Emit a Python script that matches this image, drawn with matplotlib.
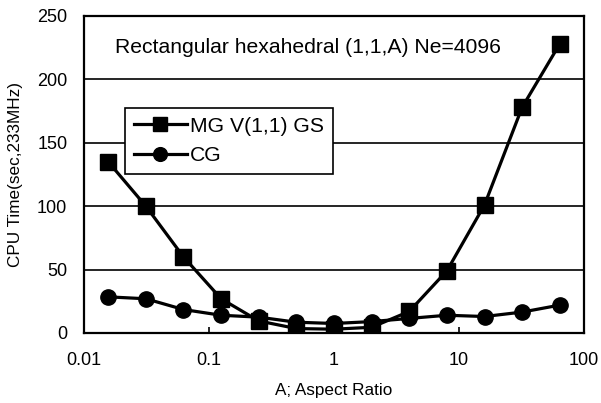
import numpy as np
import matplotlib
matplotlib.use("Agg")
import matplotlib.pyplot as plt

plt.rcParams['font.family'] = ['Liberation Sans', 'DejaVu Sans']

# aspect ratios 1/64 ... 64
aspect = [1/64, 1/32, 1/16, 1/8, 1/4, 1/2, 1, 2, 4, 8, 16, 32, 64]
mg_time = [135, 100, 60, 27, 9.5, 3.5, 3, 4.5, 17, 49, 101, 178, 228]
cg_time = [28.5, 27, 18.5, 14, 12.5, 8.5, 7.5, 9, 11.5, 14, 13, 16.5, 22]

xticks = [0.01, 0.1, 1, 10, 100]
xlabels = ['0.01', '0.1', '1', '10', '100']
yticks = [0, 50, 100, 150, 200, 250]

fig = plt.figure(figsize=(6.01, 4.03), dpi=100)
ax = fig.add_axes([0.1398, 0.1737, 0.8319, 0.7866])

ax.set_xscale('log')
ax.set_xlim(0.01, 100)
ax.set_ylim(0, 250)

for y in yticks[1:-1]:
    ax.axhline(y, color='black', lw=1.2, zorder=1)

ax.plot(aspect, mg_time, color='black', lw=2.3, marker='s', ms=11.5,
        label='MG V(1,1) GS', zorder=3)
ax.plot(aspect, cg_time, color='black', lw=2.3, marker='o', ms=11,
        label='CG', zorder=4)

ax.set_xticks(xticks)
ax.set_xticklabels(xlabels)
ax.xaxis.set_minor_locator(matplotlib.ticker.NullLocator())
ax.set_yticks(yticks)
ax.tick_params(axis='x', direction='in', length=4, width=1.2, pad=14,
               labelsize=13)
ax.tick_params(axis='y', length=0, pad=12, labelsize=13)

for s in ax.spines.values():
    s.set_linewidth(1.6)

ax.set_xlabel('A; Aspect Ratio', fontsize=12.3, labelpad=10)
ax.set_ylabel('CPU Time(sec,233MHz)', fontsize=12.3, labelpad=10)

ax.text(0.062, 225, 'Rectangular hexahedral (1,1,A) Ne=4096',
        transform=ax.get_yaxis_transform(), fontsize=15.2, va='center')

leg = ax.legend(loc='upper left', bbox_to_anchor=(0.082, 0.71),
                borderaxespad=0, fontsize=15.2, fancybox=False, framealpha=1,
                edgecolor='black', handlelength=2.5, handletextpad=0.15,
                labelspacing=0.48, borderpad=0.42, markerscale=0.9)
leg.get_frame().set_linewidth(1.2)

fig.savefig('out.png', dpi=100)
